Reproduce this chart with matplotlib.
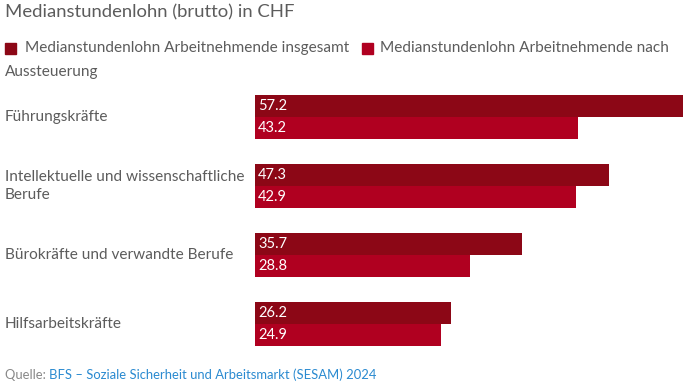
"""
Medianstundenlohn (brutto) in CHF - horizontal grouped bars.
"""
import matplotlib.pyplot as plt
from matplotlib.patches import Rectangle

categories = ["Führungskräfte", "Intellektuelle und wissenschaftliche\nBerufe",
              "Bürokräfte und verwandte Berufe", "Hilfsarbeitskräfte"]
insgesamt = [57.2, 47.3, 35.7, 26.2]
nach_aussteuerung = [43.2, 42.9, 28.8, 24.9]
series_names = ["Medianstundenlohn Arbeitnehmende insgesamt",
                "Medianstundenlohn Arbeitnehmende nach"]

DARK = "#8c0716"
RED = "#b00020"
GREY = "#5c5c5c"


def main():
    plt.rcParams["font.family"] = ["Lato", "DejaVu Sans"]
    W, H = 696, 388
    fig = plt.figure(figsize=(W / 100, H / 100), dpi=100)

    h = 22 / 69
    left, right = 255 / W, 683 / W
    top, bottom = 1 - 95 / H, 1 - 346 / H
    ax = fig.add_axes([left, bottom, right - left, top - bottom])

    ys = list(range(len(categories)))
    ax.barh([y - h / 2 for y in ys], insgesamt, height=h, color=DARK)
    ax.barh([y + h / 2 for y in ys], nach_aussteuerung, height=h, color=RED)
    for y, a, b in zip(ys, insgesamt, nach_aussteuerung):
        ax.text(0.4, y - h / 2, f"{a:.1f}", color="white", fontsize=10.5, va="center", ha="left")
        ax.text(0.4, y + h / 2, f"{b:.1f}", color="white", fontsize=10.5, va="center", ha="left")

    ax.set_xlim(0, max(insgesamt))
    ax.set_ylim(len(categories) - 1 + h, -h)
    ax.axis("off")

    # category labels on the left
    for y, cat in zip(ys, categories):
        yf = bottom + (top - bottom) * (len(categories) - 1 + h - y) / (len(categories) - 1 + 2 * h)
        fig.text(5 / W, yf, cat, color=GREY, fontsize=11.1, va="center", ha="left", linespacing=1.45)

    # title
    fig.text(5 / W, 1 - 12 / H, "Medianstundenlohn (brutto) in CHF", color=GREY, fontsize=13.3, va="center")

    # legend
    fig.patches.append(Rectangle((5 / W, 1 - 54 / H), 11 / W, 11 / H, color=DARK, transform=fig.transFigure))
    fig.text(25 / W, 1 - 48 / H, series_names[0], color=GREY, fontsize=11.1, va="center")
    fig.patches.append(Rectangle((362 / W, 1 - 54 / H), 11 / W, 11 / H, color=RED, transform=fig.transFigure))
    fig.text(380 / W, 1 - 48 / H, series_names[1], color=GREY, fontsize=11.1, va="center")
    fig.text(5 / W, 1 - 72 / H, "Aussteuerung", color=GREY, fontsize=11.1, va="center")

    # source
    t = fig.text(5 / W, 1 - 375 / H, "Quelle: ", color="#888888", fontsize=9.4, va="center")
    fig.canvas.draw()
    bb = t.get_window_extent()
    fig.text(bb.x1 / W, 1 - 375 / H, "BFS – Soziale Sicherheit und Arbeitsmarkt (SESAM) 2024",
             color="#2a8ad0", fontsize=9.4, va="center")

    fig.savefig("out.png", dpi=100)


if __name__ == "__main__":
    main()
